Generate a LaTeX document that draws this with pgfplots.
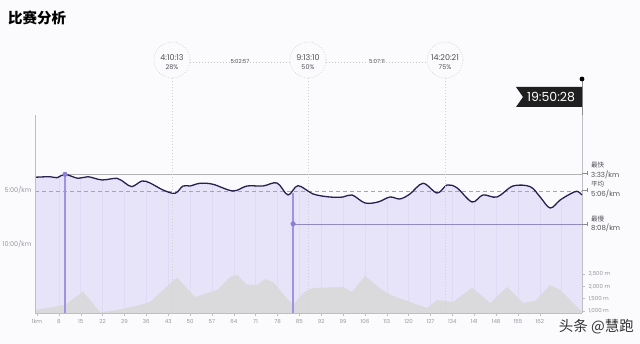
\documentclass[border=0pt]{standalone}
\usepackage{pgfplots}
\pgfplotsset{compat=1.18}
\usepackage{pgfplotstable}
\usepackage{fontspec}
\setmainfont{Poppins}
\newfontfamily\cjk{Noto Sans CJK SC}

\definecolor{bgc}{RGB}{251,251,253}
\definecolor{lav}{RGB}{231,228,250}
\definecolor{lavgrid}{RGB}{223,219,245}
\definecolor{elev}{RGB}{218,218,220}
\definecolor{paceline}{RGB}{40,32,78}
\definecolor{mark}{RGB}{158,146,226}
\definecolor{markdot}{RGB}{140,127,214}
\definecolor{axgray}{RGB}{190,190,196}
\definecolor{tickgray}{RGB}{150,150,158}
\definecolor{labgray}{RGB}{80,80,86}
\definecolor{slowline}{RGB}{145,138,190}

\pgfplotstableread{
km pace
0.36 3.82
5.16 3.77
7.40 3.86
9.97 3.55
14.13 3.92
17.33 3.77
21.81 4.07
26.62 3.92
29.18 4.35
31.42 4.69
34.62 4.17
37.18 4.35
41.35 5.00
45.19 5.31
47.75 4.63
50.00 4.63
53.19 4.38
57.36 4.47
63.76 5.09
68.24 4.63
73.37 4.63
77.85 4.35
81.37 5.46
84.57 4.60
89.40 5.37
94.80 5.65
99.00 5.65
101.90 5.46
106.00 6.20
110.20 6.11
114.00 5.65
117.20 5.83
120.40 5.37
124.60 4.38
129.10 5.28
132.30 4.54
135.50 4.81
140.30 6.11
143.80 5.46
148.30 5.65
153.40 4.63
158.90 4.69
162.10 5.65
165.30 6.67
168.50 5.93
171.70 5.37
173.90 5.12
175.50 5.46
}\pacetable

\pgfplotstableread{
km elev
0.36 1041
9.97 1244
15.73 1785
21.17 959
25.34 1000
33.98 1244
37.18 1366
45.83 2370
51.59 1569
58.64 1854
62.80 2382
65.04 2463
68.24 2057
71.45 2057
74.01 2301
76.57 2179
82.01 1366
82.97 1244
86.17 1732
89.37 1935
98.98 1976
101.86 1772
106.03 2423
111.47 1854
115.00 1610
125.90 1122
129.10 1447
134.20 1366
140.30 1947
146.10 1325
151.50 1976
156.60 1325
160.50 1407
165.30 2057
168.50 1854
171.70 1447
174.90 1041
175.50 1000
}\elevtable

\pgfplotsset{
  common/.style={
    at={(35pt,31pt)}, anchor=south west, scale only axis,
    width=547pt, height=198pt,
    xmin=0.36, xmax=175.5,
  }
}

\begin{document}
\begin{tikzpicture}
\fill[bgc] (0pt,0pt) rectangle (640pt,344pt);

% --- layer 1: lavender region under the pace curve
\begin{axis}[common,
  ymin=-1.944, ymax=16.389, y dir=reverse,
  axis line style={draw=none},
  xtick=\empty,
  major tick length=0pt,
  ytick={5,10}, yticklabels={5:00/km,10:00/km},
  yticklabel style={font=\fontsize{6.5}{7}\selectfont, text=tickgray},
]
\addplot[fill=lav, draw=none] coordinates {(0.36,16.389) (175.5,16.389)} \closedcycle;
\addplot[ycomb, draw=lavgrid, line width=0.5pt] coordinates {
(8,16.389) (15,16.389) (22,16.389) (29,16.389) (36,16.389) (43,16.389)
(50,16.389) (57,16.389) (64,16.389) (71,16.389) (78,16.389) (85,16.389)
(92,16.389) (99,16.389) (106,16.389) (113,16.389) (120,16.389) (127,16.389)
(134,16.389) (141,16.389) (148,16.389) (155,16.389) (162,16.389) (169,16.389)};
\addplot[fill=bgc, draw=none, smooth, tension=0.55] table[x=km,y=pace] {\pacetable} \closedcycle;
\end{axis}

% --- layer 2: elevation profile
\begin{axis}[common,
  ymin=918.7, ymax=8967,
  axis x line*=bottom, axis y line*=right,
  axis line style={-, draw=axgray, line width=0.5pt},
  xtick={1,8,...,162},
  xticklabels={1km,8,15,22,29,36,43,50,57,64,71,78,85,92,99,106,113,120,127,134,141,148,155,162},
  xticklabel style={font=\fontsize{5.5}{6}\selectfont, text=tickgray},
  ytick={1000,1500,2000,2500},
  yticklabels={{1,000 m},{1,500 m},{2,000 m},{2,500 m}},
  yticklabel style={font=\fontsize{5.5}{6}\selectfont, text=tickgray},
  tick align=outside, major tick length=3pt,
  tick style={draw=axgray, line width=0.4pt},
]
\addplot[fill=elev, draw=none] table[x=km,y=elev] {\elevtable} \closedcycle;
\end{axis}

% --- layer 3: pace line and markers
\begin{axis}[common,
  ymin=-1.944, ymax=16.389, y dir=reverse,
  hide axis, clip=false,
]
\addplot[draw=black!35, dash pattern=on 4pt off 3pt, line width=0.6pt] coordinates {(0.36,5.1) (175.5,5.1)};
\addplot[draw=black!30, line width=0.6pt] coordinates {(9.97,3.55) (175.5,3.55)};
\addplot[draw=slowline, line width=0.6pt] coordinates {(83,8.133) (175.5,8.133)};
\addplot[draw=mark, line width=2.4pt] coordinates {(9.97,3.55) (9.97,16.389)};
\addplot[draw=mark, line width=2.4pt] coordinates {(83,5.3) (83,16.389)};
\addplot[paceline, line width=1.3pt, smooth, tension=0.55] table[x=km,y=pace] {\pacetable};
\addplot[only marks, mark=*, mark size=2.3pt, color=markdot] coordinates {(9.97,3.55) (83,8.133)};
\end{axis}

% axis lines
\draw[axgray, line width=0.5pt] (35pt,31pt) -- (35pt,229pt);
\draw[black!45, line width=0.5pt] (582pt,265pt) -- (582pt,229pt);
\fill[black] (582pt,265pt) circle (2.4pt);

% quartile markers
\foreach \xx in {172,308,445} {
  \draw[black!18, dash pattern=on 1pt off 2pt, line width=0.5pt] (\xx pt,266pt) -- (\xx pt,31pt);
  \draw[black!18, dash pattern=on 1pt off 1.6pt, line width=0.6pt] (\xx pt,284pt) circle (18pt);
}
\draw[black!22, dash pattern=on 1pt off 2pt, line width=0.5pt] (190pt,282pt) -- (290pt,282pt);
\draw[black!22, dash pattern=on 1pt off 2pt, line width=0.5pt] (326pt,282pt) -- (427pt,282pt);
\node[fill=bgc, inner sep=1pt, text=labgray] at (240pt,282pt) {\fontsize{5.5}{6}\selectfont 5:02:57};
\node[fill=bgc, inner sep=1pt, text=labgray] at (377pt,282pt) {\fontsize{5.5}{6}\selectfont 5:07:11};
\node[text=labgray] at (172pt,286pt) {\fontsize{8}{9}\selectfont 4:10:13};
\node[text=labgray] at (172pt,277pt) {\fontsize{6.5}{8}\selectfont 28\%};
\node[text=labgray] at (308pt,286pt) {\fontsize{8}{9}\selectfont 9:13:10};
\node[text=labgray] at (308pt,277pt) {\fontsize{6.5}{8}\selectfont 50\%};
\node[text=labgray] at (445pt,286pt) {\fontsize{8}{9}\selectfont 14:20:21};
\node[text=labgray] at (445pt,277pt) {\fontsize{6.5}{8}\selectfont 75\%};

% finish flag
\fill[black!88] (516pt,257pt) -- (582pt,257pt) -- (582pt,237pt) -- (516pt,237pt) -- (523pt,247pt) -- cycle;
\node[text=white] at (551pt,247pt) {\fontsize{12.5}{13}\selectfont 19:50:28};

% right-hand pace labels
\foreach \yy in {171,154,120} {
  \draw[black!45, line width=0.5pt] (582pt,\yy pt) -- (587pt,\yy pt);
  \draw[black!45, line width=0.5pt] (587pt,\yy pt+2pt) -- (587pt,\yy pt-2pt);
}
\node[anchor=west, text=labgray, inner sep=0pt] at (591pt,179pt) {\cjk\fontsize{6.5}{7}\selectfont 最快};
\node[anchor=west, text=labgray, inner sep=0pt] at (591pt,169.5pt) {\fontsize{7}{8}\selectfont 3:33/km};
\node[anchor=west, text=labgray, inner sep=0pt] at (591pt,159.5pt) {\cjk\fontsize{6.5}{7}\selectfont 平均};
\node[anchor=west, text=labgray, inner sep=0pt] at (591pt,150pt) {\fontsize{7}{8}\selectfont 5:06/km};
\node[anchor=west, text=labgray, inner sep=0pt] at (591pt,125pt) {\cjk\fontsize{6.5}{7}\selectfont 最慢};
\node[anchor=west, text=labgray, inner sep=0pt] at (591pt,116pt) {\fontsize{7}{8}\selectfont 8:08/km};

% title and watermark
\node[anchor=west, inner sep=0pt] at (8pt,326pt) {\cjk\bfseries\fontsize{14.5}{16}\selectfont 比赛分析};
\node[anchor=east, inner sep=0pt, text=black!80] at (634pt,17pt) {\cjk\fontsize{14.5}{16}\selectfont 头条 @慧跑};

\pgfresetboundingbox
\useasboundingbox (0pt,0pt) rectangle (640pt,344pt);
\end{tikzpicture}
\end{document}
